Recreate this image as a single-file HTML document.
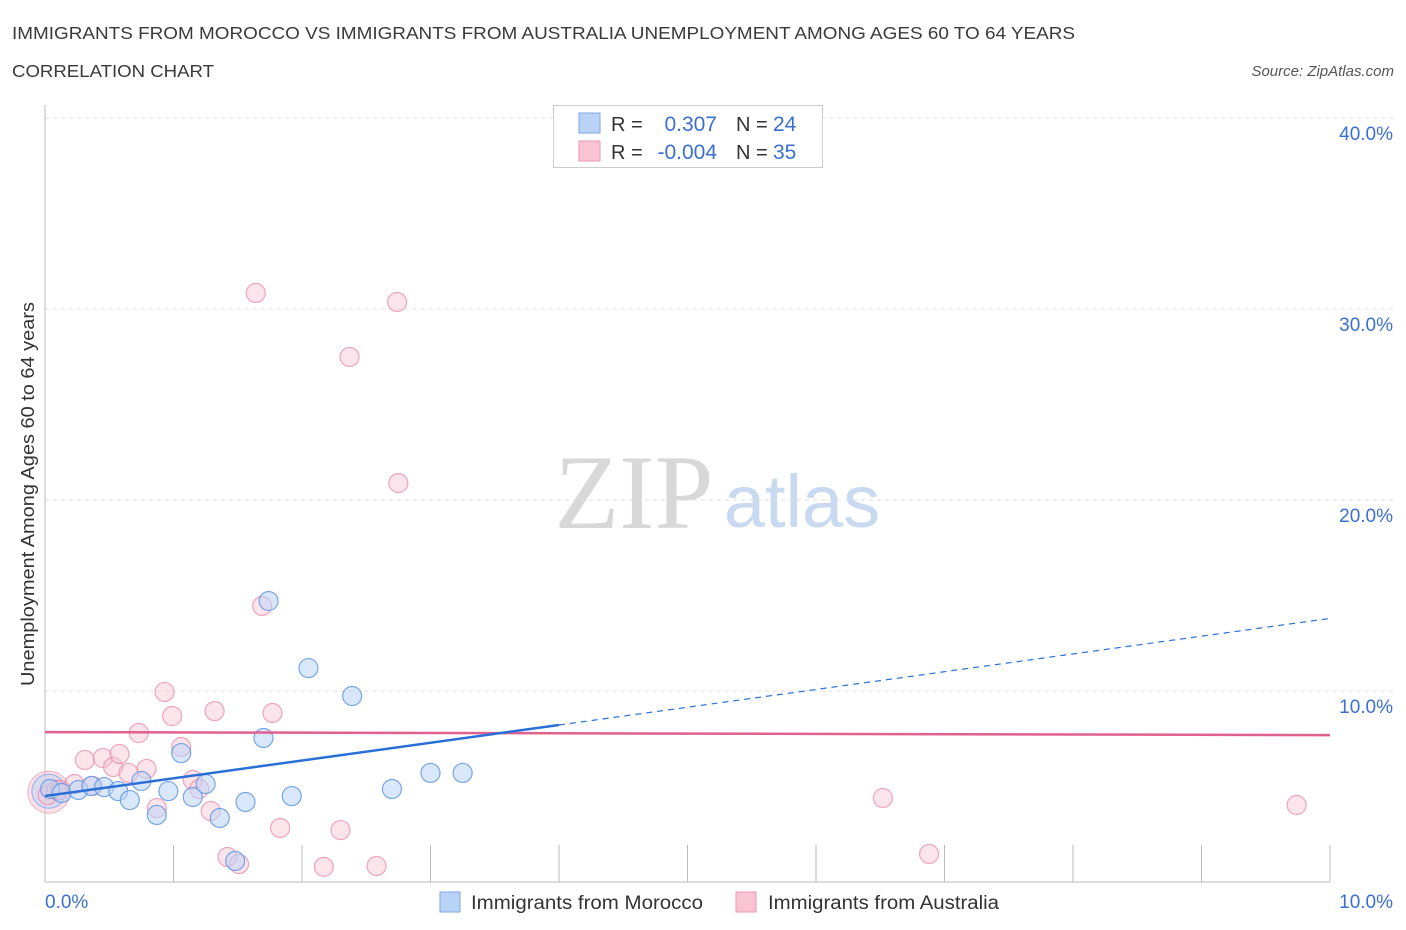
<!DOCTYPE html>
<html><head><meta charset="utf-8"><style>
body{margin:0;background:#fff;font-family:"Liberation Sans",sans-serif;}
#wrap{position:relative;width:1406px;height:930px;overflow:hidden;}
</style></head><body>
<div id="wrap">
<svg id="svg" width="1406" height="930" xmlns="http://www.w3.org/2000/svg" font-family="Liberation Sans, sans-serif">
<text x="12" y="39" font-size="17.5" fill="#3a3a3a" textLength="1063" lengthAdjust="spacingAndGlyphs">IMMIGRANTS FROM MOROCCO VS IMMIGRANTS FROM AUSTRALIA UNEMPLOYMENT AMONG AGES 60 TO 64 YEARS</text>
<text x="12" y="77" font-size="17.5" fill="#3a3a3a" textLength="202" lengthAdjust="spacingAndGlyphs">CORRELATION CHART</text>
<text x="1394" y="76" font-size="15" font-style="italic" fill="#555" text-anchor="end">Source: ZipAtlas.com</text>
<g>
<text x="634" y="528" font-size="106" font-family="Liberation Serif, serif" fill="#d8d8d8" text-anchor="middle">ZIP</text>
<text x="802" y="527" font-size="74" fill="#c8d9f0" text-anchor="middle">atlas</text>
</g>
<g id="grid"></g>
<g id="axes"></g>
<g id="marks"></g>
<text transform="translate(34,494) rotate(-90)" font-size="18" fill="#333" text-anchor="middle" textLength="384" lengthAdjust="spacingAndGlyphs">Unemployment Among Ages 60 to 64 years</text>
<g>
<rect x="553.5" y="105.5" width="269" height="62" fill="#fff" stroke="#ccc"/>
<rect x="579" y="113" width="21" height="20" fill="#b9d3f7" stroke="#7ea7e3"/>
<rect x="579" y="141" width="21" height="20" fill="#f9c3d3" stroke="#ea97b1"/>
<g font-size="20" fill="#333">
<text x="611" y="131">R =</text><text x="611" y="159">R =</text>
<text x="736" y="131">N =</text><text x="736" y="159">N =</text>
</g>
<g font-size="21" fill="#3b6fd0">
<text x="717" y="131" text-anchor="end">0.307</text>
<text x="717" y="159" text-anchor="end">-0.004</text>
<text x="773" y="131">24</text><text x="773" y="159">35</text>
</g>
</g>
<g>
<rect x="440" y="892" width="20" height="20" fill="#b9d3f7" stroke="#7ea7e3"/>
<text x="471" y="909" font-size="19" fill="#333" textLength="232" lengthAdjust="spacingAndGlyphs">Immigrants from Morocco</text>
<rect x="736" y="892" width="20" height="20" fill="#f9c3d3" stroke="#ea97b1"/>
<text x="768" y="909" font-size="19" fill="#333" textLength="231" lengthAdjust="spacingAndGlyphs">Immigrants from Australia</text>
</g>
</svg>
</div>
<script>
const yTicks=[10,20,30,40];
const yTickLabels=["10.0%","20.0%","30.0%","40.0%"];
const xTickLabels=["0.0%","10.0%"];
const moroccoX=[0.04,0.13,0.26,0.36,0.46,0.57,0.66,0.75,0.87,0.96,1.06,1.15,1.25,1.36,1.48,1.56,1.70,1.74,1.92,2.05,2.39,2.70,3.00,3.25];
const moroccoY=[4.87,4.66,4.82,5.03,4.97,4.76,4.29,5.29,3.51,4.76,6.75,4.45,5.13,3.35,1.10,4.19,7.54,14.71,4.50,11.20,9.74,4.87,5.71,5.71];
const australiaX=[0.02,0.09,0.12,0.23,0.31,0.37,0.45,0.53,0.58,0.65,0.73,0.79,0.87,0.93,0.99,1.06,1.15,1.20,1.29,1.32,1.42,1.51,1.64,1.69,1.77,1.83,2.17,2.30,2.37,2.58,2.74,2.75,6.52,6.88,9.74];
const australiaY=[4.55,4.82,4.82,5.13,6.39,5.03,6.49,6.02,6.70,5.71,7.80,5.92,3.87,9.95,8.69,7.07,5.34,4.87,3.72,8.95,1.31,0.94,30.84,14.45,8.85,2.83,0.79,2.72,27.49,0.84,30.37,20.89,4.40,1.47,4.03];
const moroccoTrend=[4.50,0.93];
const australiaTrend=[7.85,-0.016];
const NS="http://www.w3.org/2000/svg";
const X0=45,X1=1330,Y0=882,PX=128.5,PY=19.1;
const xs=v=>X0+v*PX, ys=v=>Y0-v*PY;
function mk(t,a,p){const e=document.createElementNS(NS,t);for(const k in a)e.setAttribute(k,a[k]);p.appendChild(e);return e;}
const grid=document.getElementById('grid'),axes=document.getElementById('axes'),marks=document.getElementById('marks');
yTicks.forEach((v,i)=>{
 const l=mk('line',{x1:X0,x2:1393,y1:ys(v),y2:ys(v),stroke:'#ddd','stroke-dasharray':'4,4'},grid);
 
 
 const t=mk('text',{x:1393,y:ys(v)+22,'font-size':19,fill:'#3b6fd0','text-anchor':'end'},axes);
 t.textContent=yTickLabels[i];
 
 
});
mk('line',{x1:X0,x2:X0,y1:105,y2:Y0,stroke:'#bbb'},axes);
mk('line',{x1:X0,x2:X1,y1:Y0,y2:Y0,stroke:'#bbb'},axes);
for(let i=1;i<=10;i++){const l=mk('line',{x1:xs(i),x2:xs(i),y1:845,y2:Y0,stroke:'#bbb'},axes);
 
 }
const xl0=mk('text',{x:45,y:908,'font-size':19,fill:'#3b6fd0'},axes);xl0.textContent=xTickLabels[0];


const xl1=mk('text',{x:1393,y:908,'font-size':19,fill:'#3b6fd0','text-anchor':'end'},axes);xl1.textContent=xTickLabels[1];


const bb=mk('circle',{cx:xs(0.03),cy:ys(4.7),r:21,fill:'rgba(249,195,211,0.5)',stroke:'rgba(234,151,177,0.7)'},marks);


const bb2=mk('circle',{cx:xs(0.03),cy:ys(4.75),r:17,fill:'rgba(185,211,247,0.5)',stroke:'rgba(110,155,225,0.7)'},marks);


australiaX.forEach((v,i)=>{const c=mk('circle',{cx:xs(v),cy:ys(australiaY[i]),r:9.5,fill:'rgba(249,195,211,0.45)',stroke:'rgba(232,138,168,0.75)','stroke-width':1.2},marks);
 
 });
moroccoX.forEach((v,i)=>{const c=mk('circle',{cx:xs(v),cy:ys(moroccoY[i]),r:9.5,fill:'rgba(185,211,247,0.55)',stroke:'rgba(100,150,225,0.85)','stroke-width':1.2},marks);
 
 });
const pl=mk('line',{x1:xs(0),y1:ys(australiaTrend[0]),x2:xs(10),y2:ys(australiaTrend[0]+australiaTrend[1]*10),stroke:'#e0608e','stroke-width':2.5},marks);


const bl=mk('line',{x1:xs(0),y1:ys(moroccoTrend[0]),x2:xs(4),y2:ys(moroccoTrend[0]+moroccoTrend[1]*4),stroke:'#2a6fd6','stroke-width':2.5},marks);


const bd=mk('line',{x1:xs(4),y1:ys(moroccoTrend[0]+moroccoTrend[1]*4),x2:xs(10),y2:ys(moroccoTrend[0]+moroccoTrend[1]*10),stroke:'#2a6fd6','stroke-width':1.2,'stroke-dasharray':'6,5'},marks);


</script>
</body></html>
